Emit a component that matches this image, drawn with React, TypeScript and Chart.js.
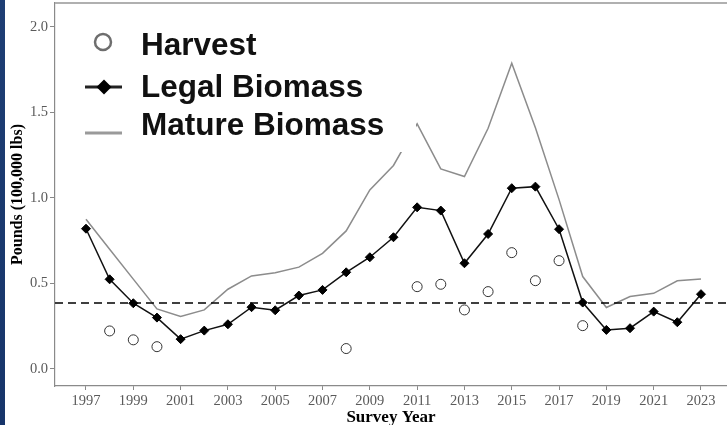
import { useEffect, useRef } from "react";
import { Chart, registerables } from "chart.js";

Chart.register(...registerables);

const years = [
  1997, 1998, 1999, 2000, 2001, 2002, 2003, 2004, 2005, 2006, 2007, 2008, 2009,
  2010, 2011, 2012, 2013, 2014, 2015, 2016, 2017, 2018, 2019, 2020, 2021, 2022, 2023,
];
const legalBiomass = [
  0.82, 0.524, 0.384, 0.3, 0.174, 0.224, 0.261, 0.361, 0.343, 0.429, 0.462, 0.565, 0.653,
  0.77, 0.945, 0.926, 0.618, 0.789, 1.057, 1.066, 0.817, 0.388, 0.228, 0.238, 0.335, 0.273, 0.437,
];
const matureBiomass = [
  0.875, 0.7, 0.525, 0.351, 0.306, 0.345, 0.466, 0.544, 0.563, 0.595, 0.676, 0.807, 1.047,
  1.19, 1.433, 1.17, 1.125, 1.407, 1.788, 1.41, 0.99, 0.54, 0.359, 0.423, 0.442, 0.515, 0.526,
];
const harvestYears = [1998, 1999, 2000, 2008, 2011, 2012, 2013, 2014, 2015, 2016, 2017, 2018];
const harvest = [0.222, 0.17, 0.13, 0.119, 0.481, 0.495, 0.345, 0.452, 0.68, 0.516, 0.633, 0.253];
const threshold = 0.385;
const xTickYears = [1997, 1999, 2001, 2003, 2005, 2007, 2009, 2011, 2013, 2015, 2017, 2019, 2021, 2023];
const yTickValues = [0, 0.5, 1.0, 1.5, 2.0];
const seriesNames = ["Harvest", "Legal Biomass", "Mature Biomass"];
const xTitle = "Survey Year";
const yTitle = "Pounds (100,000 lbs)";

const X_MIN = 1995.69;
const X_MAX = 2024.1;

const decorPlugin = {
  id: "decor",
  beforeDraw(chart: any) {
    const ctx = chart.ctx;
    ctx.save();
    ctx.fillStyle = "#ffffff";
    ctx.fillRect(0, 0, chart.width, chart.height);
    const g = ctx.createLinearGradient(0, 0, 0, chart.height);
    g.addColorStop(0, "#1e3e74");
    g.addColorStop(1, "#17356a");
    ctx.fillStyle = g;
    ctx.fillRect(0, 0, 5, chart.height);
    ctx.restore();
  },
  afterDatasetsDraw(chart: any) {
    const ctx = chart.ctx;
    ctx.save();
    // legend background box
    ctx.fillStyle = "#ffffff";
    ctx.fillRect(58, 6, 358, 146);

    const font = "bold 31.5px 'Liberation Sans', Arial, sans-serif";
    ctx.font = font;
    ctx.fillStyle = "#111111";
    ctx.textBaseline = "alphabetic";
    ctx.textAlign = "left";
    const textX = 141;
    const baselines = [55, 97, 135];
    seriesNames.forEach((name, i) => ctx.fillText(name, textX, baselines[i]));

    // Harvest symbol
    ctx.beginPath();
    ctx.arc(103, 42, 8, 0, Math.PI * 2);
    ctx.strokeStyle = "#6e6e6e";
    ctx.lineWidth = 2.5;
    ctx.stroke();

    // Legal symbol
    ctx.beginPath();
    ctx.moveTo(85, 87);
    ctx.lineTo(122, 87);
    ctx.strokeStyle = "#222222";
    ctx.lineWidth = 3;
    ctx.stroke();
    ctx.beginPath();
    ctx.moveTo(104 - 7.5, 87);
    ctx.lineTo(104, 87 - 7.5);
    ctx.lineTo(104 + 7.5, 87);
    ctx.lineTo(104, 87 + 7.5);
    ctx.closePath();
    ctx.fillStyle = "#000000";
    ctx.fill();

    // Mature symbol
    ctx.beginPath();
    ctx.moveTo(85, 133);
    ctx.lineTo(122, 133);
    ctx.strokeStyle = "#9a9a9a";
    ctx.lineWidth = 3;
    ctx.stroke();
    ctx.restore();
  },
  afterDraw(chart: any) {
    const ctx = chart.ctx;
    const a = chart.chartArea;
    ctx.save();
    ctx.beginPath();
    ctx.moveTo(a.left, a.top);
    ctx.lineTo(chart.width, a.top);
    ctx.strokeStyle = "#b0b0b0";
    ctx.lineWidth = 2;
    ctx.stroke();
    ctx.restore();
  },
};

export default function App() {
  const ref = useRef<HTMLCanvasElement | null>(null);

  useEffect(() => {
    document.body.style.margin = "0";
    const canvas = ref.current;
    if (!canvas) return;

    const chart = new Chart(canvas, {
      type: "line",
      data: {
        datasets: [
          {
            label: "Threshold",
            data: [
              { x: X_MIN, y: threshold },
              { x: X_MAX, y: threshold },
            ],
            borderColor: "#000000",
            borderWidth: 1.5,
            borderDash: [8, 5],
            pointRadius: 0,
          },
          {
            label: seriesNames[2],
            data: years.map((y, i) => ({ x: y, y: matureBiomass[i] })),
            borderColor: "#8c8c8c",
            borderWidth: 1.5,
            pointRadius: 0,
            tension: 0,
          },
          {
            label: seriesNames[1],
            data: years.map((y, i) => ({ x: y, y: legalBiomass[i] })),
            borderColor: "#111111",
            borderWidth: 1.5,
            pointStyle: "rectRot",
            pointRadius: 4.5,
            pointBackgroundColor: "#000000",
            pointBorderColor: "#000000",
            pointBorderWidth: 1,
            tension: 0,
          },
          {
            label: seriesNames[0],
            data: harvestYears.map((y, i) => ({ x: y, y: harvest[i] })),
            showLine: false,
            pointStyle: "circle",
            pointRadius: 5,
            pointBackgroundColor: "#ffffff",
            pointBorderColor: "#333333",
            pointBorderWidth: 1,
          },
        ],
      },
      options: {
        responsive: false,
        animation: false,
        events: [],
        layout: { autoPadding: false, padding: { left: 0, right: 0, top: 3, bottom: 0 } },
        plugins: {
          legend: { display: false },
          tooltip: { enabled: false },
        },
        scales: {
          x: {
            type: "linear",
            min: X_MIN,
            max: X_MAX,
            afterBuildTicks: (scale: any) => {
              scale.ticks = xTickYears.map((v) => ({ value: v }));
            },
            afterFit: (scale: any) => {
              scale.height = 39;
              scale.paddingLeft = 0;
              scale.paddingRight = 0;
            },
            grid: {
              display: true,
              drawOnChartArea: false,
              drawTicks: true,
              tickLength: 4,
              color: "#888888",
            },
            border: { display: true, color: "#8a8a8a", width: 1.2 },
            ticks: {
              autoSkip: false,
              maxRotation: 0,
              padding: 2,
              color: "#5a5a5a",
              font: { family: "'Liberation Serif', 'Times New Roman', serif", size: 14.5 },
              callback: (v: any) => String(v),
            },
            title: {
              display: true,
              text: xTitle,
              color: "#000000",
              font: { family: "'Liberation Serif', 'Times New Roman', serif", size: 17, weight: "bold", lineHeight: 1 },
              padding: { top: 0, bottom: -1.5 },
            },
          },
          y: {
            type: "linear",
            min: -0.1,
            max: 2.14,
            afterBuildTicks: (scale: any) => {
              scale.ticks = yTickValues.map((v) => ({ value: v }));
            },
            afterFit: (scale: any) => {
              scale.width = 55;
              scale.paddingTop = 0;
              scale.paddingBottom = 0;
            },
            grid: {
              display: true,
              drawOnChartArea: false,
              drawTicks: true,
              tickLength: 5,
              color: "#888888",
            },
            border: { display: true, color: "#8a8a8a", width: 1.2 },
            ticks: {
              padding: 2,
              color: "#5a5a5a",
              font: { family: "'Liberation Serif', 'Times New Roman', serif", size: 14.5 },
              callback: (v: any) => Number(v).toFixed(1),
            },
            title: {
              display: true,
              text: yTitle,
              color: "#000000",
              font: { family: "'Liberation Serif', 'Times New Roman', serif", size: 16, weight: "bold", lineHeight: 1.2 },
              padding: { top: 8, bottom: 0 },
            },
          },
        },
      },
      plugins: [decorPlugin],
    });

    return () => chart.destroy();
  }, []);

  return (
    <div style={{ width: 727, height: 425 }}>
      <canvas ref={ref} width={727} height={425} style={{ display: "block", width: 727, height: 425 }} />
    </div>
  );
}
